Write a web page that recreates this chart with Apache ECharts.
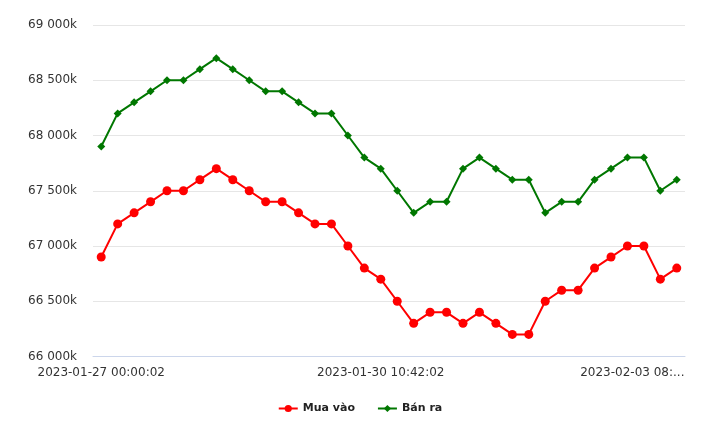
<!DOCTYPE html>
<html><head><meta charset="utf-8">
<script src="https://cdn.jsdelivr.net/npm/echarts@6/dist/echarts.min.js"></script>
<style>html,body{margin:0;padding:0;background:#fff}#c{width:720px;height:434px}</style>
</head><body><div id="c"></div>
<script>
const categories = [
  "2023-01-27 00:00:02","2023-01-27 08:30:02","2023-01-27 09:15:02","2023-01-27 10:20:02",
  "2023-01-27 14:05:02","2023-01-28 08:30:02","2023-01-28 09:10:02","2023-01-28 10:40:02",
  "2023-01-28 15:00:02","2023-01-29 08:20:02","2023-01-29 09:30:02","2023-01-29 11:00:02",
  "2023-01-29 14:30:02","2023-01-30 08:15:02","2023-01-30 08:45:02","2023-01-30 09:20:02",
  "2023-01-30 09:55:02","2023-01-30 10:42:02","2023-01-30 14:10:02","2023-01-31 08:30:02",
  "2023-01-31 09:40:02","2023-01-31 11:00:02","2023-01-31 14:20:02","2023-02-01 08:30:02",
  "2023-02-01 09:45:02","2023-02-01 11:10:02","2023-02-01 14:30:02","2023-02-02 08:20:02",
  "2023-02-02 09:30:02","2023-02-02 10:50:02","2023-02-02 14:15:02","2023-02-03 08:05:02",
  "2023-02-03 08:25:02","2023-02-03 08:40:02","2023-02-03 08:55:02","2023-02-03 10:30:02"
];
const muaVao = [66900,67200,67300,67400,67500,67500,67600,67700,67600,67500,67400,67400,
  67300,67200,67200,67000,66800,66700,66500,66300,66400,66400,66300,66400,
  66300,66200,66200,66500,66600,66600,66800,66900,67000,67000,66700,66800];
const banRa = [67900,68200,68300,68400,68500,68500,68600,68700,68600,68500,68400,68400,
  68300,68200,68200,68000,67800,67700,67500,67300,67400,67400,67700,67800,
  67700,67600,67600,67300,67400,67400,67600,67700,67800,67800,67500,67600];
const seriesNames = ["Mua vào", "Bán ra"];
const yMin = 66000, yMax = 69000, yStep = 500;
const labelIndices = [0, 17, 34];

function fmtK(v) {
  return String(v).replace(/\B(?=(\d{3})+(?!\d))/g, " ") + "k";
}

const chart = echarts.init(document.getElementById('c'));
chart.setOption({
  animation: false,
  backgroundColor: '#ffffff',
  textStyle: { fontFamily: 'DejaVu Sans' },
  grid: { left: 93, right: 35, top: 25, bottom: 77.5, containLabel: false },
  legend: {
    bottom: 15, left: 'center', itemGap: 22, itemWidth: 19, itemHeight: 9,
    textStyle: { fontFamily: 'DejaVu Sans', fontSize: 11, fontWeight: 'bold', color: '#222222' },
    data: seriesNames
  },
  xAxis: {
    type: 'category', data: categories, boundaryGap: true,
    axisLine: { lineStyle: { color: '#ccd6eb', width: 1 } },
    axisTick: { show: false },
    axisLabel: {
      interval: function (i) { return labelIndices.indexOf(i) >= 0; },
      margin: 10, fontSize: 12, color: '#333333', fontFamily: 'DejaVu Sans',
      formatter: function (v, i) {
        if (i === labelIndices[2]) return '{t|' + v.slice(0, 14) + '...}';
        return v;
      },
      rich: { t: { fontSize: 12, color: '#333333', fontFamily: 'DejaVu Sans', padding: [0, 56, 0, 0] } }
    },
    splitLine: { show: false }
  },
  yAxis: {
    type: 'value', min: yMin, max: yMax, interval: yStep,
    axisLine: { show: false }, axisTick: { show: false },
    axisLabel: { margin: 16, fontSize: 12, color: '#333333', fontFamily: 'DejaVu Sans', formatter: fmtK },
    splitLine: { lineStyle: { color: '#e6e6e6', width: 1 } }
  },
  series: [
    { name: seriesNames[0], type: 'line', data: muaVao, symbol: 'circle', symbolSize: 9,
      itemStyle: { color: '#ff0000' }, lineStyle: { color: '#ff0000', width: 2 } },
    { name: seriesNames[1], type: 'line', data: banRa, symbol: 'diamond', symbolSize: 8,
      itemStyle: { color: '#007700' }, lineStyle: { color: '#007700', width: 2 } }
  ]
});
</script></body></html>
